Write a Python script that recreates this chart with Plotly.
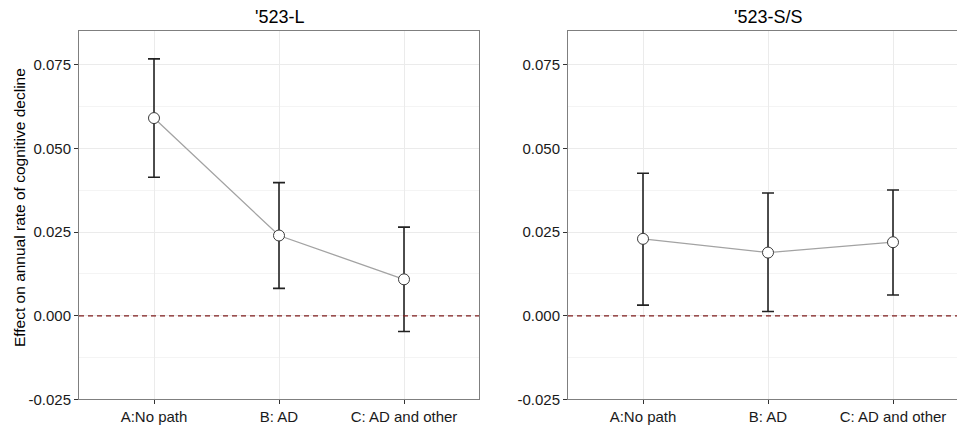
import plotly.graph_objects as go

categories = ["A:No path", "B: AD", "C: AD and other"]
panel_titles = ["'523-L", "'523-S/S"]

est_L = [0.0591, 0.0240, 0.0109]
lo_L = [0.0414, 0.0082, -0.0047]
hi_L = [0.0768, 0.0398, 0.0265]

est_S = [0.0230, 0.0189, 0.0220]
lo_S = [0.0032, 0.0013, 0.0062]
hi_S = [0.0426, 0.0367, 0.0376]

y_tick_vals = [-0.025, 0.0, 0.025, 0.05, 0.075]
y_tick_text = ["-0.025", "0.000", "0.025", "0.050", "0.075"]
y_title = "Effect on annual rate of cognitive decline"

W, H = 957, 432
FONT = "Liberation Sans, Arial, Helvetica, sans-serif"


def px_x(sx):
    return sx / W


def px_y(sy):
    return 1 - sy / H


fig = go.Figure()

panels = [(est_L, lo_L, hi_L, "x", "y"), (est_S, lo_S, hi_S, "x2", "y2")]
for est, lo, hi, xa, ya in panels:
    fig.add_trace(go.Scatter(
        x=categories, y=est, mode="lines", xaxis=xa, yaxis=ya,
        line=dict(color="#a3a3a3", width=1.3), showlegend=False, hoverinfo="skip"))
    fig.add_trace(go.Scatter(
        x=categories, y=est, mode="markers", xaxis=xa, yaxis=ya,
        marker=dict(size=11, color="white", line=dict(color="#3a3a3a", width=1)),
        error_y=dict(type="data", symmetric=False,
                     array=[h - e for h, e in zip(hi, est)],
                     arrayminus=[e - l for e, l in zip(est, lo)],
                     color="#222222", thickness=1.6, width=6),
        showlegend=False))
    fig.add_shape(type="line", xref=f"{xa} domain", yref=ya, x0=0, x1=1, y0=0, y1=0,
                  line=dict(color="#7f1d1d", width=1.3, dash="5px,4px"), layer="above")

common_x = dict(type="category", showline=True, linecolor="#7f7f7f", linewidth=1,
                ticks="outside", ticklen=4, tickcolor="#333333", tickwidth=1,
                showgrid=True, gridcolor="#ebebeb", gridwidth=1, zeroline=False,
                tickfont=dict(family=FONT, size=15, color="#1a1a1a"), fixedrange=True)
common_y = dict(range=[-0.025, 0.085], tickmode="array", tickvals=y_tick_vals, ticktext=y_tick_text,
                showline=True, linecolor="#7f7f7f", linewidth=1,
                ticks="outside", ticklen=4, tickcolor="#333333", tickwidth=1,
                showgrid=True, gridcolor="#ebebeb", gridwidth=1, zeroline=False,
                minor=dict(dtick=0.0125, tick0=0, showgrid=True, gridcolor="#f4f4f4", gridwidth=1, ticks=""),
                tickfont=dict(family=FONT, size=15, color="#1a1a1a"), fixedrange=True)

ydom = [px_y(407), px_y(32)]
fig.update_layout(
    width=W, height=H,
    margin=dict(l=0, r=0, t=0, b=0),
    paper_bgcolor="white", plot_bgcolor="white",
    xaxis=dict(common_x, domain=[px_x(79), px_x(479)], range=[-0.6, 2.6], mirror=True, anchor="y"),
    yaxis=dict(common_y, domain=ydom, mirror=True, anchor="x"),
    xaxis2=dict(common_x, domain=[px_x(568), 1.0], range=[-0.6, 2.512], mirror=True, anchor="y2"),
    yaxis2=dict(common_y, domain=ydom, mirror=False, anchor="x2"),
    annotations=[
        dict(text=panel_titles[0], x=px_x(279), y=px_y(17), xref="paper", yref="paper",
             xanchor="center", yanchor="middle", showarrow=False,
             font=dict(family=FONT, size=18, color="#000000")),
        dict(text=panel_titles[1], x=px_x(768), y=px_y(17), xref="paper", yref="paper",
             xanchor="center", yanchor="middle", showarrow=False,
             font=dict(family=FONT, size=18, color="#000000")),
        dict(text=y_title, x=px_x(19), y=px_y(212), xref="paper", yref="paper",
             xanchor="center", yanchor="middle", showarrow=False, textangle=-90,
             font=dict(family=FONT, size=15.5, color="#000000")),
    ],
)

fig.write_html("out.html", config={"displayModeBar": False},
               post_script="document.body.style.margin='0';document.body.style.overflow='hidden';")
